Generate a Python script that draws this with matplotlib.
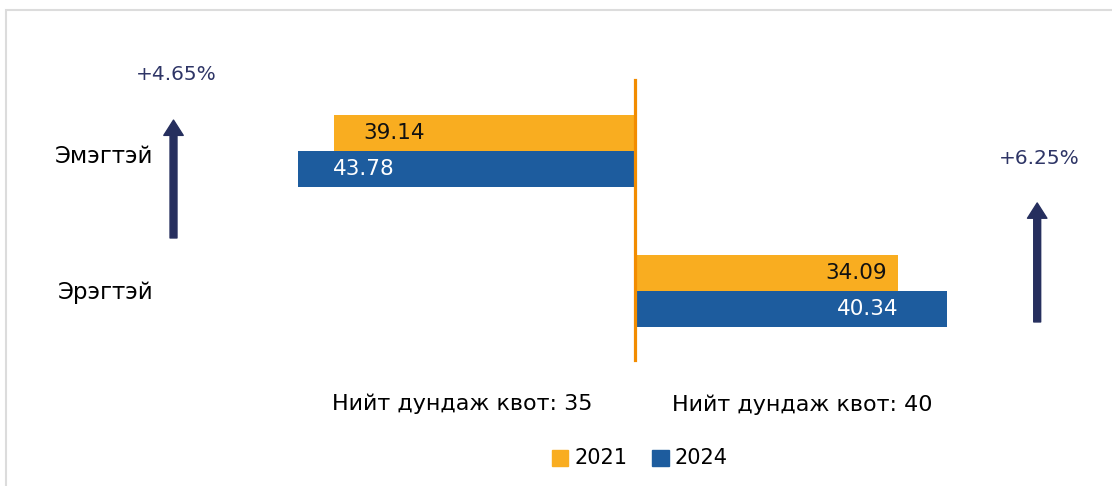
import matplotlib.pyplot as plt
from matplotlib.patches import Rectangle

# data
groups = ["Эмэгтэй", "Эрэгтэй"]
years = ["2021", "2024"]
vals_2021 = [39.14, 34.09]
vals_2024 = [43.78, 40.34]
sides = [-1, 1]  # эмэгтэй зүүн тийш, эрэгтэй баруун тийш
changes = ["+4.65%", "+6.25%"]
quota_text = ["Нийт дундаж квот: 35", "Нийт дундаж квот: 40"]

c_2021 = "#F9AD20"
c_2024 = "#1D5C9E"
c_line = "#F28C00"
c_arrow = "#262F5E"

plt.rcParams['font.family'] = ['DejaVu Sans']

fig = plt.figure(figsize=(11.12, 4.86), dpi=100)
ax = fig.add_axes([0, 0, 1, 1])
ax.set_xlim(-82.4, 61.8)
ax.set_ylim(2.393, -1.079)
ax.axis("off")

# чарт хүрээ
fig.patches.append(Rectangle((6 / 1112, -0.01), 1.2, 1 - 10 / 486 + 0.01,
                             transform=fig.transFigure, fill=False,
                             edgecolor="#DCDCDC", linewidth=1.5))

h = 0.257
for i, g in enumerate(groups):
    s = sides[i]
    ax.barh(i - h / 2, s * vals_2021[i], height=h, color=c_2021)
    ax.barh(i + h / 2, s * vals_2024[i], height=h, color=c_2024)

    if s < 0:
        ax.text(-vals_2021[i] + 3.8, i - h / 2, f"{vals_2021[i]:.2f}", ha="left",
                va="center", fontsize=15.5, color="#111111")
        ax.text(-vals_2024[i] + 4.5, i + h / 2, f"{vals_2024[i]:.2f}", ha="left",
                va="center", fontsize=15.5, color="white")
    else:
        ax.text(vals_2021[i] - 1.5, i - h / 2, f"{vals_2021[i]:.2f}", ha="right",
                va="center", fontsize=15.5, color="#111111")
        ax.text(vals_2024[i] - 6.2, i + h / 2, f"{vals_2024[i]:.2f}", ha="right",
                va="center", fontsize=15.5, color="white")

# категорийн нэрс
ax.text(-62.5, 0.04, groups[0], ha="right", va="center", fontsize=16.5)
ax.text(-62.5, 1.01, groups[1], ha="right", va="center", fontsize=16.5)

# голын шугам
ax.plot([0, 0], [-0.507, 1.493], color=c_line, linewidth=2.3)

# сумнууд
arrow_x = [-59.9, 52.1]
arrow_y = [(0.621, -0.221), (1.221, 0.371)]
for ax_x, (y0, y1), txt, ty in zip(arrow_x, arrow_y, changes, [-0.545, 0.05]):
    ax.annotate("", xy=(ax_x, y1), xytext=(ax_x, y0),
                arrowprops=dict(arrowstyle="simple,head_length=1.1,head_width=1.4,tail_width=0.5",
                                mutation_scale=10, color=c_arrow, shrinkA=0, shrinkB=0))
    ax.text(ax_x + 0.3, ty, txt, ha="center", va="center", fontsize=14.5, color="#2E3566")

# нийт дундаж квот
ax.text(-39.4, 1.805, quota_text[0], ha="left", va="center", fontsize=16)
ax.text(4.8, 1.812, quota_text[1], ha="left", va="center", fontsize=16)

# legend
leg_y = 2.19
for xs, col, yr in zip([-10.8, 2.2], [c_2021, c_2024], years):
    ax.add_patch(Rectangle((xs, leg_y - 0.057), 2.1, 0.114, color=col))
    ax.text(xs + 2.85, leg_y, yr, ha="left", va="center", fontsize=15)

fig.savefig("out.png", dpi=100)
